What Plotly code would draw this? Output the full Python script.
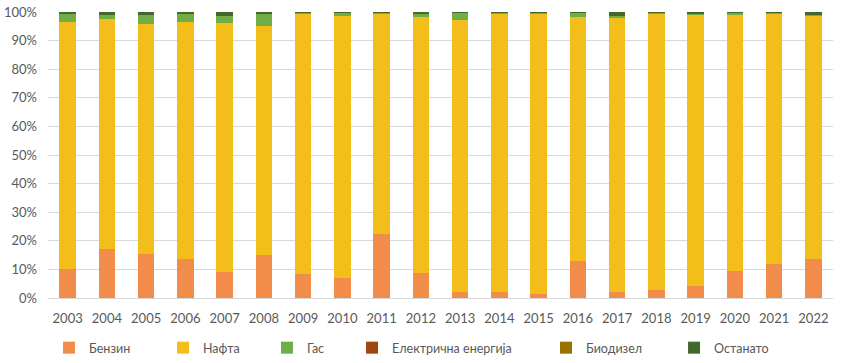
import plotly.graph_objects as go

years = [str(y) for y in range(2003, 2023)]

benzin = [10.1, 17.1, 15.3, 13.8, 9.2, 15.0, 8.3, 7.1, 22.5, 8.6,
          2.2, 2.2, 1.4, 12.8, 2.2, 2.8, 4.3, 9.4, 11.8, 13.8]
nafta = [86.5, 80.3, 80.5, 82.7, 87.0, 80.1, 91.0, 91.5, 76.8, 89.8,
         95.0, 97.1, 98.1, 85.3, 95.9, 96.5, 94.8, 89.4, 87.5, 85.0]
gas = [2.6, 1.4, 3.0, 2.8, 2.4, 4.2, 0.5, 1.2, 0.5, 0.9,
       2.6, 0.5, 0.3, 1.6, 0.5, 0.5, 0.4, 1.0, 0.5, 0.2]
elektricna = [0.0] * 20
biodizel = [0.0] * 20
ostanato = [0.8, 1.2, 1.2, 0.7, 1.4, 0.7, 0.2, 0.2, 0.2, 0.7,
            0.2, 0.2, 0.2, 0.3, 1.4, 0.2, 0.5, 0.2, 0.2, 1.0]

y_ticks = list(range(0, 101, 10))
y_tick_labels = [f"{v}%" for v in y_ticks]

series_names = ["Бензин", "Нафта", "Гас", "Електрична енергија", "Биодизел", "Останато"]
series_values = [benzin, nafta, gas, elektricna, biodizel, ostanato]
series_colors = ["#F28C4A", "#F4BE1A", "#70AD47", "#9E480E", "#997300", "#43682B"]
legend_x = [0.0013, 0.1465, 0.2790, 0.3873, 0.6344, 0.7975]

fig = go.Figure()
legend_layouts = {}
for i, (name, vals, color, lx) in enumerate(zip(series_names, series_values, series_colors, legend_x)):
    key = "legend" if i == 0 else f"legend{i + 1}"
    fig.add_trace(go.Bar(
        x=years, y=vals, name=name,
        marker=dict(color=color, line=dict(width=0)),
        legend=key, showlegend=True,
    ))
    legend_layouts[key] = dict(
        orientation="h", x=lx, xanchor="left", y=-0.175, yanchor="middle",
        font=dict(size=12.5, color="#595959"), bgcolor="rgba(0,0,0,0)",
        itemclick=False, visible=True,
    )

fig.update_layout(
    width=841, height=363,
    showlegend=True,
    margin=dict(l=48, r=8, t=12, b=65, autoexpand=False),
    barmode="stack", barnorm="percent", bargap=0.575,
    paper_bgcolor="white", plot_bgcolor="white",
    font=dict(family="Lato, Open Sans, sans-serif", size=13, color="#595959"),
    xaxis=dict(showgrid=False, showline=True, linecolor="#d9d9d9", linewidth=1,
               ticks="", tickfont=dict(size=13), ticklabelstandoff=8),
    yaxis=dict(range=[0, 100], tickmode="array", tickvals=y_ticks, ticktext=y_tick_labels,
               showgrid=True, gridcolor="#d9d9d9", gridwidth=1, zeroline=False,
               showline=False, tickfont=dict(size=13), ticklabelstandoff=10,
               ticklabeloverflow="allow"),
    **legend_layouts,
)

fig.write_html("out.html", config={"displayModeBar": False},
               post_script="document.body.style.margin='0';")
